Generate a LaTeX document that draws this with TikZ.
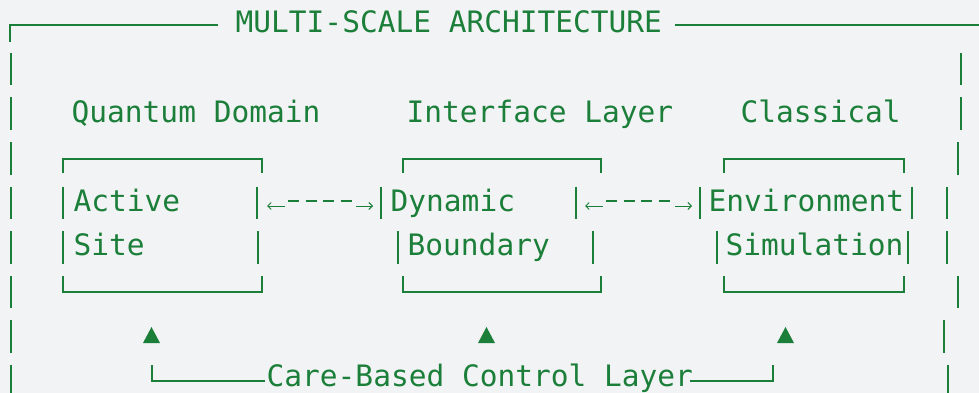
\documentclass[tikz,border=0pt]{standalone}
\usepackage{fontspec}
\newfontfamily\asciimono{DejaVu Sans Mono}
\usetikzlibrary{arrows.meta}
\definecolor{bgc}{HTML}{F2F3F5}
\definecolor{grn}{HTML}{1B7F3A}
\begin{document}
\begin{tikzpicture}[x=1pt,y=-1pt,
  txt/.style={text=grn, font=\asciimono\fontsize{29.5}{35}\selectfont, inner sep=0pt, anchor=base west},
  rule/.style={draw=grn, line width=2pt},
  pipe/.style={draw=grn, line width=2pt},
  tri/.style={fill=grn},
  barb/.style={draw=grn, line width=1pt, -{Straight Barb[length=3.5pt,width=7pt]}},
  dashline/.style={draw=grn, line width=2.4pt, dash pattern=on 11pt off 6.5pt}]
\useasboundingbox (0,0) rectangle (979,393);
\clip (0,0) rectangle (979,393);
\fill[bgc] (0,0) rectangle (979,393);
% outer frame pieces
\draw[rule] (10,42) -- (10,25) -- (218,25);
\draw[rule] (675,25) -- (979,25);
\foreach \x/\k in {11/1,11/2,11/3,11/4,11/5,11/6,11/7,11/8,
                   961/1,961/2,958/3,947/4,947/5,958/6,944/7,948/8,
                   63/4,63/5,257/4,258/5,
                   381/4,398/5,576/4,593/5,
                   700/4,717/5,912/4,908/5}
  \draw[pipe] (\x,{53+44.5*(\k-1)}) -- ++(0,32.5);
% boxes
\draw[rule] (63,173) -- (63,159) -- (262,159) -- (262,173);
\draw[rule] (63,276) -- (63,292) -- (262,292) -- (262,276);
\draw[rule] (403,173) -- (403,159) -- (601,159) -- (601,173);
\draw[rule] (403,276) -- (403,292) -- (601,292) -- (601,276);
\draw[rule] (724,173) -- (724,159) -- (904,159) -- (904,173);
\draw[rule] (724,276) -- (724,292) -- (904,292) -- (904,276);
% texts
\node[txt] (title) at (235.5,33) {MULTI-SCALE ARCHITECTURE};
\node[txt] (qd) at (71.5,122) {Quantum Domain};
\node[txt] (il) at (406.5,122) {Interface Layer};
\node[txt] (cl) at (740.5,122) {Classical};
\node[txt] (act) at (73.5,211) {Active};
\node[txt] (site) at (73.5,255) {Site};
\node[txt] (dyn) at (390.5,211) {Dynamic};
\node[txt] (bnd) at (407.5,255) {Boundary};
\node[txt] (env) at (708.5,211) {Environment};
\node[txt] (sim) at (725.5,255) {Simulation};
\node[txt] (care) at (266.5,386) {Care-Based Control Layer};
% connectors between boxes
\coordinate (c1a) at (267,206); \coordinate (c1b) at (285,206);
\coordinate (c1c) at (356,206); \coordinate (c1d) at (373,206);
\coordinate (c1e) at (288,201); \coordinate (c1f) at (352,201);
\draw[barb] (c1b) -- (c1a);
\draw[dashline] (c1e) -- (c1f);
\draw[barb] (c1c) -- (c1d);
\coordinate (c2a) at (585,206); \coordinate (c2b) at (603,206);
\coordinate (c2c) at (675,206); \coordinate (c2d) at (692,206);
\coordinate (c2e) at (606,201); \coordinate (c2f) at (670,201);
\draw[barb] (c2b) -- (c2a);
\draw[dashline] (c2e) -- (c2f);
\draw[barb] (c2c) -- (c2d);
% control layer
\draw[rule] (152,365) -- (152,381) -- (265,381);
\draw[rule] (690,381) -- (773,381) -- (773,365);
\fill[tri] (143,343) -- (160,343) -- (151.5,327) -- cycle;
\fill[tri] (478,343) -- (495,343) -- (486.5,327) -- cycle;
\fill[tri] (777,343) -- (794,343) -- (785.5,327) -- cycle;
\end{tikzpicture}
\end{document}
